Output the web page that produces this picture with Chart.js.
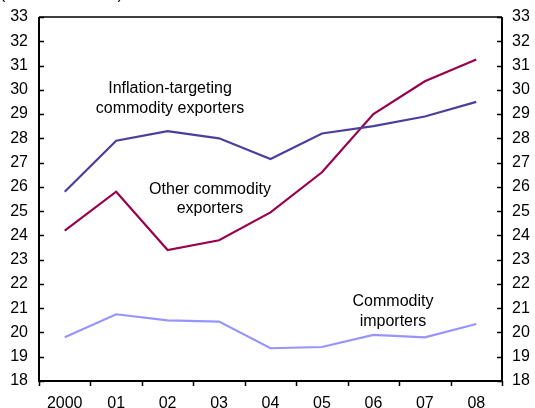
<!DOCTYPE html>
<html><head><meta charset="utf-8">
<script src="https://cdn.jsdelivr.net/npm/chart.js@4/dist/chart.umd.min.js"></script>
<style>html,body{margin:0;padding:0;background:#fff}#wrap{width:535px;height:408px;position:relative}</style>
</head><body><div id="wrap"><canvas id="c" width="535" height="408"></canvas></div>
<script>
const categories = ["2000","01","02","03","04","05","06","07","08"];
const inflationTargeting = [25.8, 27.9, 28.3, 28.0, 27.15, 28.2, 28.5, 28.9, 29.5];
const otherExporters = [24.2, 25.8, 23.4, 23.8, 24.95, 26.6, 29.0, 30.35, 31.25];
const importers = [19.8, 20.75, 20.5, 20.45, 19.35, 19.4, 19.9, 19.8, 20.35];
const yTicks = [18,19,20,21,22,23,24,25,26,27,28,29,30,31,32,33];
const FONT = "'Liberation Sans', Arial, sans-serif";

const labelsPlugin = {
  id: 'annot',
  afterDraw(chart) {
    const ctx = chart.ctx, ca = chart.chartArea;
    const x = chart.scales.x, yl = chart.scales.y, yr = chart.scales.y2;
    ctx.save();
    ctx.strokeStyle = '#000';
    ctx.lineWidth = 1.5;
    ctx.beginPath(); ctx.moveTo(ca.left, ca.top); ctx.lineTo(ca.right, ca.top); ctx.stroke();
    ctx.lineWidth = 2;
    ctx.beginPath();
    ctx.moveTo(ca.left, ca.top); ctx.lineTo(ca.left, ca.bottom + 1);
    ctx.moveTo(ca.right, ca.top); ctx.lineTo(ca.right, ca.bottom + 1);
    ctx.moveTo(ca.left - 1, ca.bottom); ctx.lineTo(ca.right + 1, ca.bottom);
    ctx.stroke();
    ctx.lineWidth = 1.5;
    ctx.beginPath();
    yTicks.forEach(v => {
      const py = Math.round(yl.getPixelForValue(v)) + 0.5;
      ctx.moveTo(ca.left, py); ctx.lineTo(ca.left + 5, py);
      const pr = Math.round(yr.getPixelForValue(v)) + 0.5;
      ctx.moveTo(ca.right, pr); ctx.lineTo(ca.right - 5, pr);
    });
    const step = (ca.right - ca.left) / categories.length;
    for (let i = 0; i <= categories.length; i++) {
      const px = Math.round(x.getPixelForValue(0) - step / 2 + i * step) + 0.5;
      ctx.moveTo(px, ca.bottom); ctx.lineTo(px, ca.bottom + 5);
    }
    ctx.stroke();
    ctx.fillStyle = '#000';
    ctx.font = '16px ' + FONT;
    ctx.textAlign = 'center';
    ctx.textBaseline = 'middle';
    ctx.fillText('Inflation-targeting', 170, 89);
    ctx.fillText('commodity exporters', 170, 109);
    ctx.fillText('Other commodity', 210, 190);
    ctx.fillText('exporters', 210, 209);
    ctx.fillText('Commodity', 393, 302);
    ctx.fillText('importers', 393, 322);
    ctx.textAlign = 'left';
    ctx.textBaseline = 'alphabetic';
    ctx.fillText('(Percent of GDP)', 0, -1);
    ctx.restore();
  }
};

new Chart(document.getElementById('c'), {
  type: 'line',
  data: {
    labels: categories,
    datasets: [
      { data: inflationTargeting, borderColor: '#4B3F9E', borderWidth: 2.2, pointRadius: 0, tension: 0, yAxisID: 'y' },
      { data: otherExporters, borderColor: '#99004D', borderWidth: 2.2, pointRadius: 0, tension: 0, yAxisID: 'y' },
      { data: importers, borderColor: '#9595FF', borderWidth: 2.2, pointRadius: 0, tension: 0, yAxisID: 'y' }
    ]
  },
  options: {
    responsive: false,
    animation: false,
    devicePixelRatio: 1,
    layout: { padding: { top: 17, left: 0, right: 0, bottom: 0 } },
    plugins: { legend: { display: false }, tooltip: { enabled: false }, title: { display: false } },
    scales: {
      x: {
        offset: true,
        grid: { display: false, drawTicks: false },
        border: { display: false },
        ticks: { color: '#000', font: { family: FONT, size: 16 }, padding: 13, maxRotation: 0, autoSkip: false },
        afterFit(s) { s.height = 27; s.paddingLeft = 0; s.paddingRight = 0; }
      },
      y: {
        position: 'left', min: 18, max: 33,
        grid: { display: false, drawTicks: false },
        border: { display: false },
        ticks: { stepSize: 1, color: '#000', font: { family: FONT, size: 16 }, padding: 11 },
        afterFit(s) { s.width = 39; s.paddingTop = 0; s.paddingBottom = 0; }
      },
      y2: {
        position: 'right', min: 18, max: 33,
        grid: { display: false, drawTicks: false },
        border: { display: false },
        ticks: { stepSize: 1, color: '#000', font: { family: FONT, size: 16 }, padding: 10 },
        afterFit(s) { s.width = 33; s.paddingTop = 0; s.paddingBottom = 0; }
      }
    }
  },
  plugins: [labelsPlugin]
});
</script></body></html>
